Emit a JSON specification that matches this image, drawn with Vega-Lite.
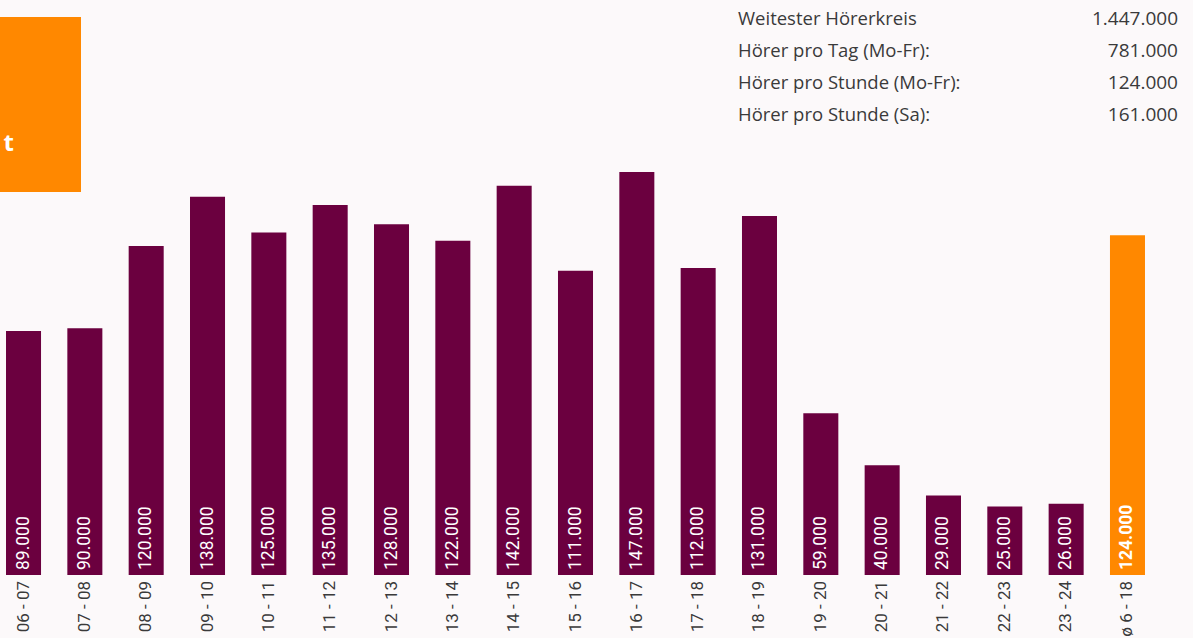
{
  "$schema": "https://vega.github.io/schema/vega-lite/v6.json",
  "width": 1193,
  "height": 638,
  "autosize": {"type": "none"},
  "padding": 0,
  "background": "#fcf9fa",
  "config": {
    "view": {"stroke": null},
    "locale": {"number": {"decimal": ",", "thousands": ".", "grouping": [3], "currency": ["", " €"]}}
  },
  "datasets": {
    "hours": [
      {"slot": "06 - 07", "hoerer": 89000, "typ": "Stunde"},
      {"slot": "07 - 08", "hoerer": 90000, "typ": "Stunde"},
      {"slot": "08 - 09", "hoerer": 120000, "typ": "Stunde"},
      {"slot": "09 - 10", "hoerer": 138000, "typ": "Stunde"},
      {"slot": "10 - 11", "hoerer": 125000, "typ": "Stunde"},
      {"slot": "11 - 12", "hoerer": 135000, "typ": "Stunde"},
      {"slot": "12 - 13", "hoerer": 128000, "typ": "Stunde"},
      {"slot": "13 - 14", "hoerer": 122000, "typ": "Stunde"},
      {"slot": "14 - 15", "hoerer": 142000, "typ": "Stunde"},
      {"slot": "15 - 16", "hoerer": 111000, "typ": "Stunde"},
      {"slot": "16 - 17", "hoerer": 147000, "typ": "Stunde"},
      {"slot": "17 - 18", "hoerer": 112000, "typ": "Stunde"},
      {"slot": "18 - 19", "hoerer": 131000, "typ": "Stunde"},
      {"slot": "19 - 20", "hoerer": 59000, "typ": "Stunde"},
      {"slot": "20 - 21", "hoerer": 40000, "typ": "Stunde"},
      {"slot": "21 - 22", "hoerer": 29000, "typ": "Stunde"},
      {"slot": "22 - 23", "hoerer": 25000, "typ": "Stunde"},
      {"slot": "23 - 24", "hoerer": 26000, "typ": "Stunde"},
      {"slot": "ø 6 - 18", "hoerer": 124000, "typ": "Durchschnitt"}
    ],
    "info": [
      {"kennzahl": "Weitester Hörerkreis", "wert": "1.447.000"},
      {"kennzahl": "Hörer pro Tag (Mo-Fr):", "wert": "781.000"},
      {"kennzahl": "Hörer pro Stunde (Mo-Fr):", "wert": "124.000"},
      {"kennzahl": "Hörer pro Stunde (Sa):", "wert": "161.000"}
    ]
  },
  "layer": [
    {
      "data": {"values": [{"k": "panel"}]},
      "layer": [
        {
          "mark": {"type": "rect", "color": "#ff8800"},
          "encoding": {"x": {"value": 0}, "x2": {"value": 81}, "y": {"value": 17}, "y2": {"value": 192}}
        },
        {
          "mark": {"type": "text", "text": "t", "color": "#ffffff", "font": "Open Sans", "fontSize": 24, "fontWeight": "bold", "align": "right", "baseline": "alphabetic"},
          "encoding": {"x": {"value": 14}, "y": {"value": 151}}
        }
      ]
    },
    {
      "data": {"name": "hours"},
      "encoding": {
        "x": {
          "field": "slot", "type": "nominal", "sort": null, "axis": null,
          "scale": {"type": "band", "range": [0, 1151], "paddingInner": 0.429, "paddingOuter": 0.098}
        }
      },
      "layer": [
        {
          "mark": {"type": "bar"},
          "encoding": {
            "y": {"field": "hoerer", "type": "quantitative", "axis": null, "scale": {"domain": [0, 209800], "range": [575, 0], "nice": false}},
            "color": {"field": "typ", "type": "nominal", "legend": null, "scale": {"domain": ["Stunde", "Durchschnitt"], "range": ["#6b003f", "#ff8800"]}}
          }
        },
        {
          "transform": [{"filter": "datum.typ === 'Stunde'"}],
          "mark": {"type": "text", "angle": 270, "align": "left", "baseline": "middle", "dx": 5, "font": "Roboto", "fontSize": 17.5, "color": "#ffffff"},
          "encoding": {
            "y": {"datum": 0, "type": "quantitative"},
            "text": {"field": "hoerer", "type": "quantitative", "format": ",.0f"}
          }
        },
        {
          "transform": [{"filter": "datum.typ === 'Durchschnitt'"}],
          "mark": {"type": "text", "angle": 270, "align": "left", "baseline": "middle", "dx": 5, "font": "Roboto", "fontSize": 17.5, "fontWeight": "bold", "color": "#ffffff"},
          "encoding": {
            "y": {"datum": 0, "type": "quantitative"},
            "text": {"field": "hoerer", "type": "quantitative", "format": ",.0f"}
          }
        },
        {
          "mark": {"type": "text", "angle": 270, "align": "right", "baseline": "middle", "dx": -6, "font": "Roboto", "fontSize": 17, "color": "#3a3a3a"},
          "encoding": {
            "y": {"datum": 0, "type": "quantitative"},
            "text": {"field": "slot", "type": "nominal"}
          }
        }
      ]
    },
    {
      "data": {"name": "info"},
      "encoding": {
        "y": {"field": "kennzahl", "type": "nominal", "sort": null, "axis": null, "scale": {"type": "point", "range": [19, 115], "padding": 0}}
      },
      "layer": [
        {
          "mark": {"type": "text", "align": "left", "baseline": "middle", "font": "Open Sans", "fontSize": 18.5, "color": "#3a3a3a"},
          "encoding": {
            "x": {"datum": "links", "type": "nominal", "axis": null, "scale": {"type": "point", "domain": ["links", "rechts"], "range": [738, 1178], "padding": 0}},
            "text": {"field": "kennzahl", "type": "nominal"}
          }
        },
        {
          "mark": {"type": "text", "align": "right", "baseline": "middle", "font": "Open Sans", "fontSize": 19, "color": "#3a3a3a"},
          "encoding": {
            "x": {"datum": "rechts", "type": "nominal", "axis": null, "scale": {"type": "point", "domain": ["links", "rechts"], "range": [738, 1178], "padding": 0}},
            "text": {"field": "wert", "type": "nominal"}
          }
        }
      ]
    }
  ],
  "resolve": {"scale": {"x": "independent", "y": "independent", "color": "independent"}}
}
